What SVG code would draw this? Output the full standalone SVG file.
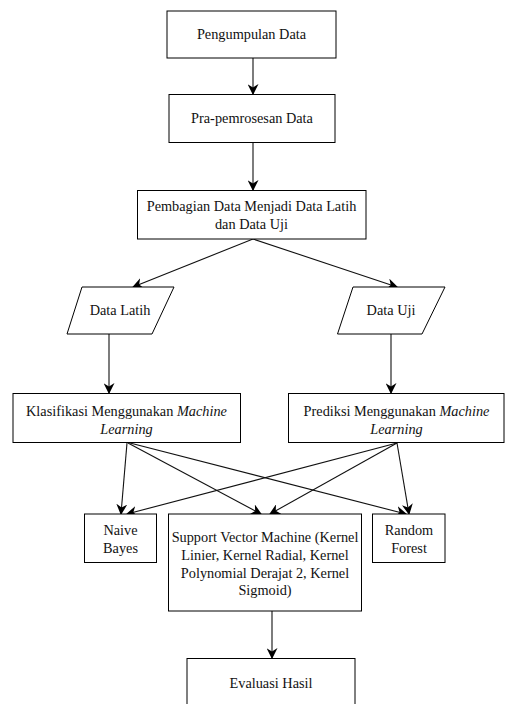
<svg xmlns="http://www.w3.org/2000/svg" width="505" height="704" viewBox="0 0 505 704">
<style>
.b{fill:#fff;stroke:#000;stroke-width:1}
text{font-family:'Liberation Serif','Times New Roman',serif;font-size:14.3px;fill:#111;text-anchor:middle}
.i{font-style:italic}
.c{stroke:#111;stroke-width:1.1;fill:none;marker-end:url(#a)}
</style>
<defs>
<marker id="a" viewBox="0 0 10 10" refX="9" refY="5" markerWidth="11" markerHeight="11" markerUnits="userSpaceOnUse" orient="auto">
<path d="M0,0 L10,5 L0,10 L3,5 Z" fill="#000"/>
</marker>
</defs>
<rect width="505" height="704" fill="#fff"/>
<g id="connectors">
<line class="c" x1="253" y1="58" x2="253" y2="94"/>
<line class="c" x1="253" y1="143" x2="253" y2="190"/>
<line class="c" x1="253" y1="239" x2="133" y2="287"/>
<line class="c" x1="253" y1="239" x2="397" y2="287"/>
<line class="c" x1="109" y1="334" x2="109" y2="393"/>
<line class="c" x1="391" y1="334" x2="391" y2="393"/>
<line class="c" x1="127" y1="443" x2="121" y2="514"/>
<line class="c" x1="128" y1="443" x2="261" y2="514"/>
<line class="c" x1="130" y1="443" x2="406" y2="514"/>
<line class="c" x1="397" y1="443" x2="127" y2="514"/>
<line class="c" x1="397" y1="443" x2="270" y2="514"/>
<line class="c" x1="397" y1="443" x2="409" y2="514"/>
<line class="c" x1="272" y1="611" x2="272" y2="658"/>
</g>
<g id="pengumpulan">
<rect class="b" x="167" y="11" width="169" height="47"/>
<text x="251.5" y="39">Pengumpulan Data</text>
</g>
<g id="prapemrosesan">
<rect class="b" x="169" y="94.5" width="166" height="48"/>
<text x="252" y="123">Pra-pemrosesan Data</text>
</g>
<g id="pembagian">
<rect class="b" x="137.5" y="190.5" width="228.5" height="48.5"/>
<text x="251.5" y="211">Pembagian Data Menjadi Data Latih</text>
<text x="251.5" y="229">dan Data Uji</text>
</g>
<g id="datalatih">
<polygon class="b" points="82,287 174,287 152,334 67,334"/>
<text x="120" y="315">Data Latih</text>
</g>
<g id="datauji">
<polygon class="b" points="353,287 445,287 422,334 337.5,334"/>
<text x="391" y="315">Data Uji</text>
</g>
<g id="klasifikasi">
<rect class="b" x="13" y="393.5" width="227.5" height="49"/>
<text x="126.5" y="416">Klasifikasi Menggunakan <tspan class="i">Machine</tspan></text>
<text class="i" x="126.5" y="434">Learning</text>
</g>
<g id="prediksi">
<rect class="b" x="288.5" y="393.5" width="215.5" height="49"/>
<text x="396.5" y="416">Prediksi Menggunakan <tspan class="i">Machine</tspan></text>
<text class="i" x="396.5" y="434">Learning</text>
</g>
<g id="naivebayes">
<rect class="b" x="84.5" y="514" width="72" height="48.5"/>
<text x="120.5" y="535">Naive</text>
<text x="120.5" y="553">Bayes</text>
</g>
<g id="svm">
<rect class="b" x="168.5" y="514" width="193" height="97"/>
<text x="265" y="542">Support Vector Machine (Kernel</text>
<text x="265" y="560">Linier, Kernel Radial, Kernel</text>
<text x="265" y="578">Polynomial Derajat 2, Kernel</text>
<text x="265" y="595">Sigmoid)</text>
</g>
<g id="randomforest">
<rect class="b" x="372.5" y="514" width="72.5" height="48.5"/>
<text x="409" y="535">Random</text>
<text x="409" y="553">Forest</text>
</g>
<g id="evaluasi">
<rect class="b" x="187" y="658.5" width="168" height="60"/>
<text x="271" y="688">Evaluasi Hasil</text>
</g>
</svg>
